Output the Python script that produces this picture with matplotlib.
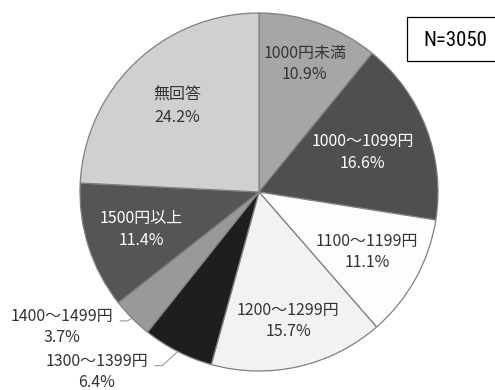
import numpy as np
import matplotlib
matplotlib.use("Agg")
import matplotlib.pyplot as plt
from matplotlib.patches import Rectangle
from matplotlib import font_manager

plt.rcParams['font.family'] = ['Noto Sans CJK JP', 'DejaVu Sans']

# Data: share of respondents by price band (clockwise from 12 o'clock)
categories = ["1000円未満", "1000～1099円", "1100～1199円", "1200～1299円",
              "1300～1399円", "1400～1499円", "1500円以上", "無回答"]
shares = [10.9, 16.6, 11.1, 15.7, 6.4, 3.7, 11.4, 24.2]
sample_label = "N=3050"

# Styling
colors = ["#a6a6a6", "#4f4f4f", "#fdfdfd", "#f2f2f2",
          "#1e1e1e", "#999999", "#555555", "#d0d0d0"]
text_colors = ["#333333", "#ffffff", "#333333", "#333333",
               "#333333", "#333333", "#ffffff", "#333333"]
label_radius = [0.76, 0.62, 0.69, 0.74, None, None, 0.69, 0.66]
# outside labels: (x, y) of text centre in axes data units
outside_pos = {4: (-0.905, -1.005), 5: (-1.10, -0.755)}


def narrow_font():
    """Pick a condensed face for the sample-size box if one is installed."""
    names = {f.name for f in font_manager.fontManager.ttflist}
    for cand in ["Liberation Sans Narrow", "DejaVu Sans Condensed",
                 "Roboto Condensed", "Open Sans Condensed"]:
        if cand in names:
            return cand, "normal"
    for f in font_manager.fontManager.ttflist:
        if "condensed" in str(f.stretch).lower() and "Sans" in f.name:
            return f.name, "condensed"
    return "DejaVu Sans", "condensed"


W, H = 495, 390
fig = plt.figure(figsize=(W / 100, H / 100), dpi=100)
cx, cy, r = 259, 192, 179
ax = fig.add_axes([(cx - r) / W, (H - cy - r) / H, 2 * r / W, 2 * r / H])

wedges, _ = ax.pie(shares, colors=colors, startangle=90, counterclock=False,
                   radius=1.0,
                   wedgeprops=dict(edgecolor="#808080", linewidth=0.9))
ax.set_xlim(-1, 1)
ax.set_ylim(-1, 1)
ax.set_aspect("equal")
ax.axis("off")

fs = 11.5
for i, (w, cat, val) in enumerate(zip(wedges, categories, shares)):
    mid = np.deg2rad((w.theta1 + w.theta2) / 2)
    txt = f"{cat}\n{val:.1f}%"
    if label_radius[i] is not None:
        d = label_radius[i]
        ax.text(d * np.cos(mid), d * np.sin(mid), txt, ha="center", va="center",
                fontsize=fs, color=text_colors[i], linespacing=1.35,
                clip_on=False)
    else:
        tx, ty = outside_pos[i]
        ax.text(tx, ty, txt, ha="center", va="center", fontsize=fs,
                color=text_colors[i], linespacing=1.35, clip_on=False)
        ex, ey = np.cos(mid), np.sin(mid)
        # leader line: short horizontal tail beside the label, then to the edge
        lx = tx + 0.325
        ly = ty + 0.035
        ax.plot([lx, lx + 0.04, ex], [ly, ly, ey], color="#999999",
                linewidth=0.8, clip_on=False)

# sample-size box at upper right
bx0, by0, bx1, by1 = 407, 17, 500, 61
fig.patches.append(Rectangle((bx0 / W, 1 - by1 / H), (bx1 - bx0) / W,
                             (by1 - by0) / H, transform=fig.transFigure,
                             facecolor="white", edgecolor="black",
                             linewidth=0.9, clip_on=False))
nf, nstretch = narrow_font()
fig.text(455 / W, 1 - 40 / H, sample_label, ha="center", va="center",
         fontsize=15, family=[nf, "DejaVu Sans"], fontstretch=nstretch,
         color="black")

fig.savefig("out.png", dpi=100, facecolor="white")
